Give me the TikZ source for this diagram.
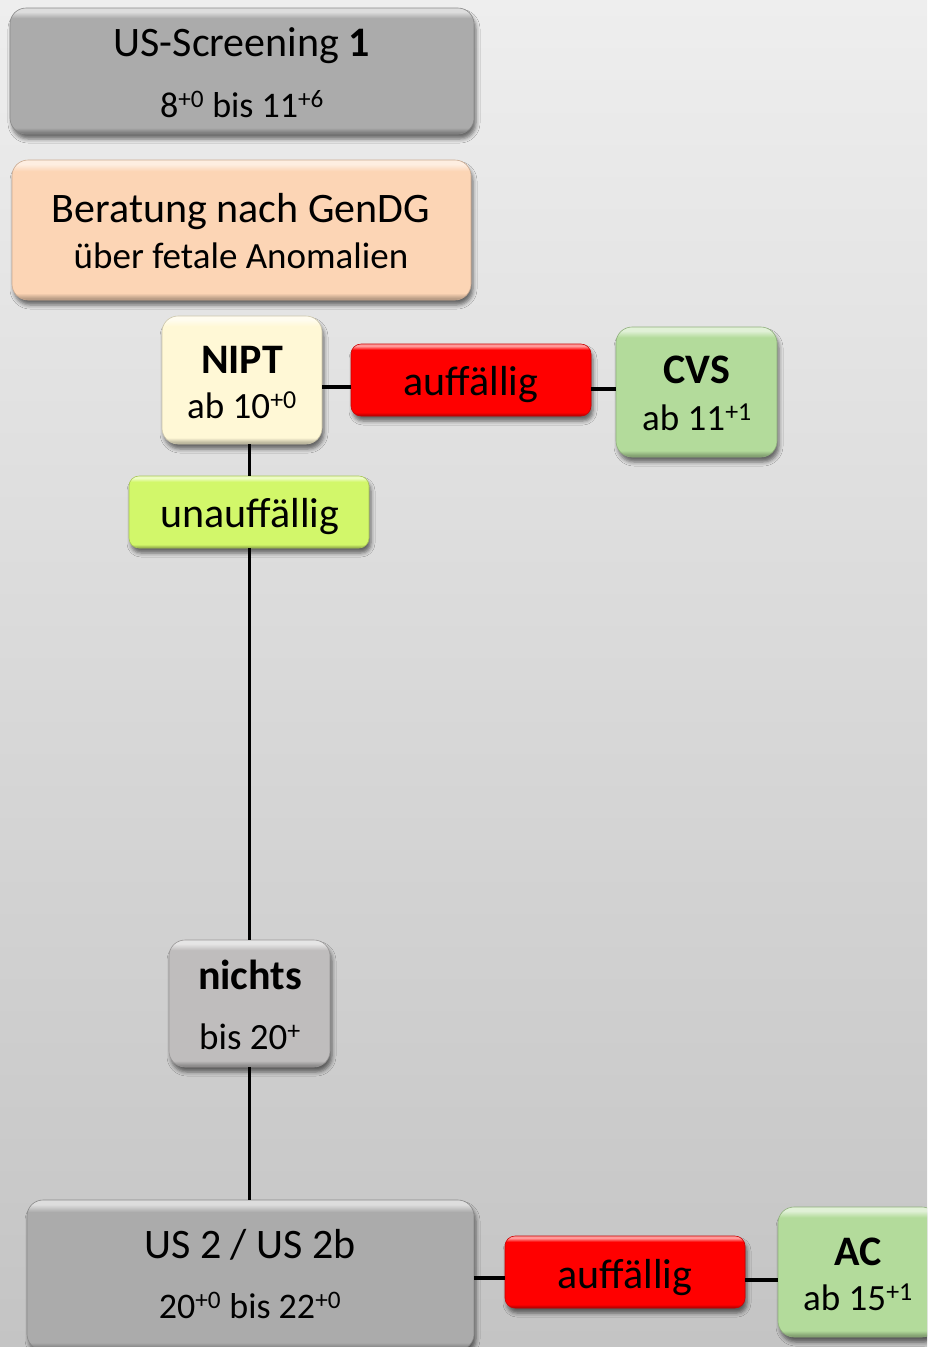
\documentclass[tikz,border=0pt]{standalone}
\usepackage{fontspec}
\setmainfont{Carlito}
\usetikzlibrary{shadows.blur}
\definecolor{bgtop}{HTML}{EEEEEE}
\definecolor{bgbot}{HTML}{C4C4C4}
\definecolor{grayfill}{HTML}{ABABAB}
\definecolor{peach}{HTML}{FCD5B5}
\definecolor{cream}{HTML}{FFF8D6}
\definecolor{redfill}{HTML}{FF0000}
\definecolor{greenfill}{HTML}{B3DB9B}
\definecolor{limefill}{HTML}{D2F76A}
\definecolor{nichtsfill}{HTML}{BFBDBD}
\makeatletter
\pgfdeclareverticalshading[tikz@axis@top,tikz@axis@middle,tikz@axis@bottom]{bevel}{100bp}{color(0bp)=(tikz@axis@bottom); color(25bp)=(tikz@axis@bottom); color(27.5bp)=(tikz@axis@middle); color(71bp)=(tikz@axis@middle); color(73.5bp)=(tikz@axis@top); color(75bp)=(tikz@axis@top); color(100bp)=(tikz@axis@top)}
\makeatother
\tikzset{
  box/.style={rectangle, rounded corners=16pt, inner sep=0pt,
    draw=#1!80!black, line width=0.6pt,
    top color=#1!40!white, bottom color=#1!65!black, middle color=#1, shading=bevel,
    blur shadow={shadow xshift=2pt, shadow yshift=-5pt, shadow blur radius=4pt, shadow opacity=55}},
  lbl/.style={anchor=base, inner sep=0pt, font=\fontsize{42}{50}\selectfont},
  sublbl/.style={anchor=base, inner sep=0pt, font=\fontsize{37}{44}\selectfont},
  link/.style={draw=black, line width=3.5pt},
  vlink/.style={draw=black, line width=3pt}
}
\begin{document}
\begin{tikzpicture}[x=1pt,y=-1pt]
\useasboundingbox (0,0) rectangle (927,1347);
\clip (0,0) rectangle (927,1347);
\shade[top color=bgtop, bottom color=bgbot] (0,0) rectangle (927,1347);

% boxes
\node[box=grayfill, minimum width=464pt, minimum height=126pt] (s1) at (242,71) {};
\node[box=peach, minimum width=459pt, minimum height=140pt] (ber) at (241.5,230) {};
\node[box=cream, minimum width=160pt, minimum height=128pt] (nipt) at (242,380) {};
\node[box=redfill, rounded corners=10pt, minimum width=240pt, minimum height=72pt] (red1) at (471,380) {};
\node[box=greenfill, minimum width=161pt, minimum height=130pt] (cvs) at (696.5,392) {};
\node[box=limefill, rounded corners=10pt, minimum width=240pt, minimum height=72pt] (unauf) at (249,512) {};
\node[box=nichtsfill, minimum width=161pt, minimum height=127pt] (nichts) at (249.5,1003.5) {};
\node[box=grayfill, minimum width=447pt, minimum height=150pt] (us2) at (250.5,1275) {};
\node[box=redfill, rounded corners=10pt, minimum width=240pt, minimum height=72pt] (red2) at (625,1272) {};
\node[box=greenfill, minimum width=160pt, minimum height=130pt] (ac) at (858,1272) {};

% connectors
\draw[link] ([yshift=-7pt]nipt.east) -- ([yshift=-7pt]red1.west);
\draw[link] ([yshift=-9pt]red1.east) -- ([yshift=3pt]cvs.west);
\draw[vlink] (unauf.north) -- (unauf.north |- nipt.south);
\draw[vlink] (unauf.south) -- (unauf.south |- nichts.north);
\draw[vlink] (nichts.south) -- (nichts.south |- us2.north);
\draw[link] ([yshift=-3pt]us2.east) -- ([yshift=-6pt]red2.west);
\draw[link] ([yshift=-8pt]red2.east) -- ([yshift=-8pt]ac.west);

% texts
\node[lbl] (t1a) at (242,56) {US-Screening \textbf{1}};
\node[sublbl, font=\fontsize{36}{44}\selectfont] (t1b) at (242,117) {8\textsuperscript{+0} bis 11\textsuperscript{+6}};
\node[lbl] (tbera) at (241,222) {Beratung nach GenDG};
\node[sublbl] (tberb) at (241,268) {über fetale Anomalien};
\node[lbl] (tnipta) at (242,373) {\textbf{NIPT}};
\node[sublbl] (tniptb) at (242,418) {ab 10\textsuperscript{+0}};
\node[lbl] (tred1) at (471,395) {auffällig};
\node[lbl] (tcvsa) at (697,383) {\textbf{CVS}};
\node[sublbl] (tcvsb) at (697,430) {ab 11\textsuperscript{+1}};
\node[lbl] (tunauf) at (250,527) {unauffällig};
\node[lbl] (tnichtsa) at (250,989) {\textbf{nichts}};
\node[sublbl] (tnichtsb) at (250,1049) {bis 20\textsuperscript{+}};
\node[lbl] (tus2a) at (250,1258) {US 2 / US 2b};
\node[sublbl, font=\fontsize{36}{44}\selectfont] (tus2b) at (250,1318) {20\textsuperscript{+0} bis 22\textsuperscript{+0}};
\node[lbl] (tred2) at (625,1288) {auffällig};
\node[lbl] (taca) at (858,1265) {\textbf{AC}};
\node[sublbl] (tacb) at (858,1310) {ab 15\textsuperscript{+1}};
\end{tikzpicture}
\end{document}
